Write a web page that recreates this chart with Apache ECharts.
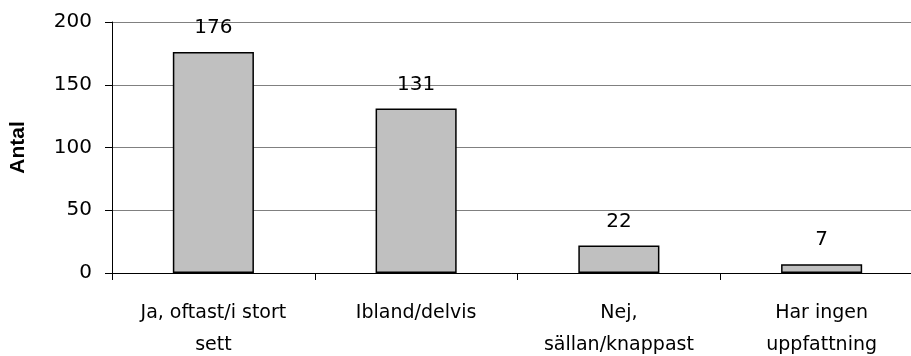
<!DOCTYPE html>
<html>
<head>
<meta charset="utf-8">
<script src="https://cdn.jsdelivr.net/npm/echarts@6/dist/echarts.min.js"></script>
<style>
  html, body { margin: 0; padding: 0; background: #fff; }
  #chart { width: 911px; height: 356px; }
</style>
</head>
<body>
<div id="chart"></div>
<script>
// Answer categories (line breaks mark where the axis labels wrap)
const categories = ['Ja, oftast/i stort\nsett', 'Ibland/delvis', 'Nej,\nsällan/knappast', 'Har ingen\nuppfattning'];
// Number of respondents per answer
const counts = [176, 131, 22, 7];
// Value axis ticks
const yTicks = [0, 50, 100, 150, 200];

const font = '"DejaVu Sans", Verdana, sans-serif';
const chart = echarts.init(document.getElementById('chart'));

chart.setOption({
  animation: false,
  backgroundColor: '#ffffff',
  grid: { left: 112, right: -12, top: 22, bottom: 83, containLabel: false, outerBoundsMode: 'none' },
  xAxis: {
    type: 'category',
    data: categories,
    axisLine: { show: true, lineStyle: { color: '#000', width: 1 } },
    axisTick: { show: true, alignWithLabel: false, length: 7, lineStyle: { color: '#000' } },
    axisLabel: {
      color: '#000', fontFamily: font, fontSize: 19, lineHeight: 32,
      margin: 24, interval: 0
    }
  },
  yAxis: {
    type: 'value',
    min: yTicks[0],
    max: yTicks[yTicks.length - 1],
    interval: 50,
    name: 'Antal',
    nameLocation: 'middle',
    nameGap: 83,
    nameRotate: 90,
    nameTextStyle: { color: '#000', fontFamily: '"Liberation Sans", Arial, sans-serif', fontSize: 21, fontWeight: 'bold' },
    axisLine: { show: true, lineStyle: { color: '#000', width: 1 } },
    axisTick: { show: true, length: 7, lineStyle: { color: '#000' } },
    axisLabel: { color: '#000', fontFamily: font, fontSize: 20, margin: 20 },
    splitLine: { show: true, lineStyle: { color: '#808080', width: 1 } }
  },
  series: [{
    type: 'bar',
    data: counts,
    barWidth: '40%',
    itemStyle: { color: '#c0c0c0', borderColor: '#000', borderWidth: 1.5 },
    label: {
      show: true,
      position: 'top',
      distance: 14,
      color: '#000',
      fontFamily: font,
      fontSize: 20
    }
  }]
});
</script>
</body>
</html>
